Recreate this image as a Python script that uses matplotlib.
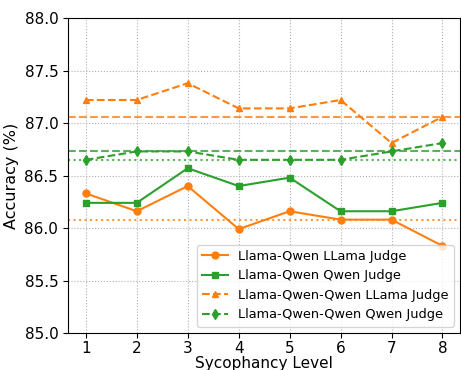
import matplotlib
matplotlib.use("Agg")
import matplotlib.pyplot as plt

levels = [1, 2, 3, 4, 5, 6, 7, 8]
lq_llama = [86.33, 86.16, 86.40, 85.99, 86.16, 86.08, 86.08, 85.83]
lq_qwen = [86.24, 86.24, 86.57, 86.40, 86.48, 86.16, 86.16, 86.24]
lqq_llama = [87.22, 87.22, 87.38, 87.14, 87.14, 87.22, 86.81, 87.06]
lqq_qwen = [86.65, 86.73, 86.73, 86.65, 86.65, 86.65, 86.73, 86.81]
labels = ["Llama-Qwen LLama Judge", "Llama-Qwen Qwen Judge",
          "Llama-Qwen-Qwen LLama Judge", "Llama-Qwen-Qwen Qwen Judge"]
baseline_vals = [87.06, 86.73, 86.65, 86.08]

orange = "#ff7f0e"
green = "#2ca02c"

fig = plt.figure(figsize=(4.61, 3.70), dpi=100)
ax = fig.add_axes([0.1475, 0.10, 0.851, 0.851])

ax.axhline(baseline_vals[0], color=orange, linestyle="--", linewidth=1.5, alpha=0.8)
ax.axhline(baseline_vals[1], color=green, linestyle="--", linewidth=1.5, alpha=0.8)
ax.axhline(baseline_vals[2], color=green, linestyle=":", linewidth=1.5, alpha=0.8)
ax.axhline(baseline_vals[3], color=orange, linestyle=":", linewidth=1.5, alpha=0.8)

ax.plot(levels, lq_llama, color=orange, marker="o", markersize=5, linestyle="-", linewidth=1.5, label=labels[0])
ax.plot(levels, lq_qwen, color=green, marker="s", markersize=5, linestyle="-", linewidth=1.5, label=labels[1])
ax.plot(levels, lqq_llama, color=orange, marker="^", markersize=5, linestyle="--", linewidth=1.5, label=labels[2])
ax.plot(levels, lqq_qwen, color=green, marker="d", markersize=5, linestyle="--", linewidth=1.5, label=labels[3])

ax.set_ylim(85.0, 88.0)
ax.set_xticks(levels)
ax.set_yticks([85.0, 85.5, 86.0, 86.5, 87.0, 87.5, 88.0])
ax.set_yticklabels(["85.0", "85.5", "86.0", "86.5", "87.0", "87.5", "88.0"])
ax.tick_params(labelsize=11)
ax.tick_params(axis="x", pad=2.5)
ax.grid(True, linestyle=":", color="#b0b0b0", linewidth=0.8)
ax.set_xlabel("Sycophancy Level", fontsize=11, labelpad=0)
ax.set_ylabel("Accuracy (%)", fontsize=11.5)
ax.legend(loc="lower right", fontsize=9.3)

fig.savefig("out.png", dpi=100)
